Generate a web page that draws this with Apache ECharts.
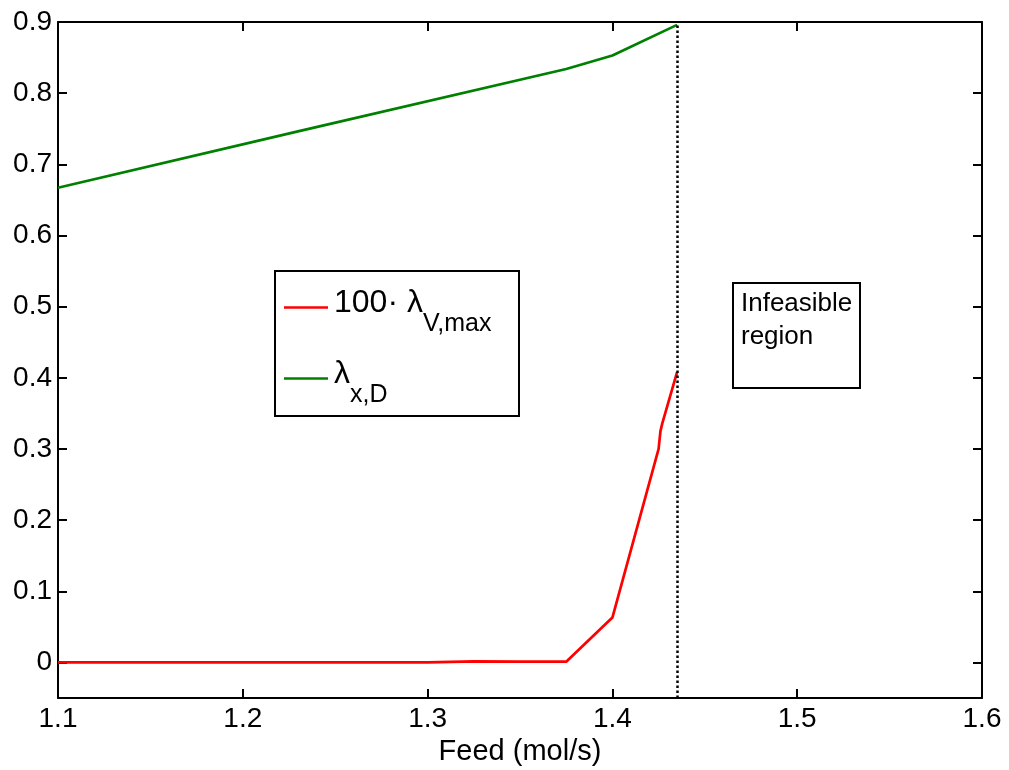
<!DOCTYPE html>
<html>
<head>
<meta charset="utf-8">
<script src="https://cdn.jsdelivr.net/npm/echarts@6/dist/echarts.min.js"></script>
<style>html,body{margin:0;padding:0;background:#fff}#c{width:1009px;height:770px}</style>
</head>
<body>
<div id="c"></div>
<script>
// Data
var feedRed = [1.1, 1.2, 1.3, 1.325, 1.35, 1.375, 1.4, 1.425, 1.426, 1.427, 1.435];
var lambdaV100 = [0, 0, 0, 0.0015, 0.001, 0.001, 0.063, 0.300, 0.325, 0.336, 0.408];
var feedGreen = [1.1, 1.231, 1.375, 1.4, 1.435];
var lambdaXD = [0.667, 0.747, 0.834, 0.853, 0.896];
var infeasibleFeed = 1.435;
var xTicks = [1.1, 1.2, 1.3, 1.4, 1.5, 1.6];
var yTicks = [0, 0.1, 0.2, 0.3, 0.4, 0.5, 0.6, 0.7, 0.8, 0.9];
var seriesNames = ['red', 'green'];

var FONT = "'Liberation Sans', Arial, sans-serif";
function pairs(xs, ys) { return xs.map(function (x, i) { return [x, ys[i]]; }); }
function fmt(v) { return (Math.round(v * 10) / 10).toString(); }

var chart = echarts.init(document.getElementById('c'), null, { renderer: 'canvas' });

var axisCommon = {
  axisLine: { show: true, onZero: false, lineStyle: { color: '#000', width: 2 } },
  axisTick: { show: true, inside: true, length: 9, lineStyle: { color: '#000', width: 2 } },
  splitLine: { show: false }
};

function xAxis(pos, showLabel) {
  return Object.assign({}, axisCommon, {
    type: 'value', position: pos, min: 1.1, max: 1.6,
    axisTick: Object.assign({}, axisCommon.axisTick, { customValues: xTicks }),
    axisLabel: { show: showLabel, customValues: xTicks, formatter: fmt, color: '#000', fontSize: 28, fontFamily: FONT, margin: 7 }
  });
}
function yAxis(pos, showLabel) {
  return Object.assign({}, axisCommon, {
    type: 'value', position: pos, min: -0.05, max: 0.9,
    axisTick: Object.assign({}, axisCommon.axisTick, { customValues: yTicks }),
    axisLabel: { show: showLabel, customValues: yTicks, formatter: fmt, color: '#000', fontSize: 28, fontFamily: FONT, margin: 6 }
  });
}

var xb = xAxis('bottom', true);
xb.name = 'Feed (mol/s)';
xb.nameLocation = 'middle';
xb.nameGap = 32;
xb.nameTextStyle = { color: '#000', fontSize: 29, fontFamily: FONT };

chart.setOption({
  animation: false,
  backgroundColor: '#fff',
  grid: { left: 58, right: 27, top: 22, bottom: 72, containLabel: false, outerBoundsMode: 'none' },
  xAxis: [xb, xAxis('top', false)],
  yAxis: [yAxis('left', true), yAxis('right', false)],
  legend: {
    orient: 'vertical', left: 284, top: 278, padding: 0, itemGap: 12,
    itemWidth: 44, itemHeight: 14,
    data: [
      { name: seriesNames[0], icon: 'path://M0,6 L44,6 L44,8.6 L0,8.6 Z', itemStyle: { color: '#ff0000' } },
      { name: seriesNames[1], icon: 'path://M0,6 L44,6 L44,8.6 L0,8.6 Z', itemStyle: { color: '#008000' } }
    ],
    formatter: function (n) {
      return n === seriesNames[0] ? '{a|100· λ}{b|V,max}' : '{a|λ}{b|x,D}';
    },
    textStyle: {
      color: '#000', fontFamily: FONT, padding: [0, 0, 0, 1],
      rich: {
        a: { fontSize: 32, fontFamily: FONT, color: '#000', lineHeight: 34, padding: [0, 0, 8, 0] },
        b: { fontSize: 25, fontFamily: FONT, color: '#000', lineHeight: 24, padding: [34, 0, 0, 0] }
      }
    }
  },
  graphic: [
    { type: 'rect', left: 274, top: 270, shape: { width: 244, height: 145 }, style: { fill: 'rgba(0,0,0,0)', stroke: '#000', lineWidth: 2 }, z: 0 },
    { type: 'rect', left: 732, top: 282, shape: { width: 127, height: 105 }, style: { fill: 'rgba(0,0,0,0)', stroke: '#000', lineWidth: 2 }, z: 0 },
    { type: 'text', left: 741, top: 287, style: { text: 'Infeasible\nregion', fill: '#000', font: '26px ' + FONT, lineHeight: 33 }, z: 10 }
  ],
  series: [
    {
      name: seriesNames[0], type: 'line', xAxisIndex: 0, yAxisIndex: 0,
      data: pairs(feedRed, lambdaV100), showSymbol: false, symbol: 'none',
      lineStyle: { color: '#ff0000', width: 2.7 }, itemStyle: { color: '#ff0000' },
      markLine: {
        silent: true, symbol: 'none', label: { show: false }, precision: 4,
        lineStyle: { color: '#000', width: 2.5, type: [2.5, 2.5] },
        data: [{ xAxis: infeasibleFeed }]
      }
    },
    {
      name: seriesNames[1], type: 'line', xAxisIndex: 0, yAxisIndex: 0,
      data: pairs(feedGreen, lambdaXD), showSymbol: false, symbol: 'none',
      lineStyle: { color: '#008000', width: 2.7 }, itemStyle: { color: '#008000' }
    }
  ]
});
</script>
</body>
</html>
